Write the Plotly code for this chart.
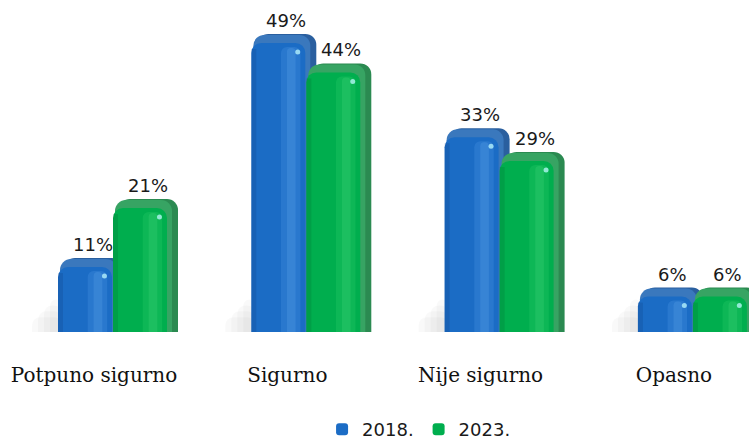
import plotly.graph_objects as go

# --- data -----------------------------------------------------------------
categories = ["Potpuno sigurno", "Sigurno", "Nije sigurno", "Opasno"]
series_names = ["2018.", "2023."]
values_2018 = [11, 49, 33, 6]
values_2023 = [21, 44, 29, 6]

# --- geometry helpers (pixel sizes converted to axis units) ---------------
PX_X = 193.3   # pixels per category step
PX_Y = 5.9     # pixels per percentage point
PLOT_H = 332   # plot area height in pixels


def ux(px):
    return px / PX_X


def uy(px):
    return px / PX_Y


xs = list(range(len(categories)))
FRONT_W = 54

styles = {
    "2018.": dict(values=values_2018, left=-36, front="#1b6cc5", side="#2a5f9f",
                  top="#3a78bd", band="rgba(90,165,240,0.22)", band2="rgba(120,190,250,0.18)",
                  dark="rgba(10,50,110,0.18)"),
    "2023.": dict(values=values_2023, left=19, front="#00ae4e", side="#2b8a51",
                  top="#37a463", band="rgba(60,220,120,0.22)", band2="rgba(110,235,150,0.16)",
                  dark="rgba(0,80,40,0.16)"),
}

fig = go.Figure()

# soft floor shadow to the left of each group
first = styles["2018."]
for w, h in [(26, 2.5), (20, 3.5), (14, 4.5), (8, 5.5)]:
    fig.add_trace(go.Bar(
        x=xs, y=[min(v, h) for v in first["values"]],
        offset=ux(first["left"] - w), width=ux(w + 4),
        marker=dict(color="rgba(0,0,0,0.025)", line=dict(width=0), cornerradius=8),
        showlegend=False, hoverinfo="skip"))

for name in series_names:
    st = styles[name]
    vals = st["values"]
    left = st["left"]
    # back body (right side face)
    fig.add_trace(go.Bar(
        x=xs, y=[v + uy(9) for v in vals],
        offset=ux(left + 6), width=ux(FRONT_W + 5),
        marker=dict(color=st["side"], line=dict(width=0), cornerradius=11),
        showlegend=False, hoverinfo="skip"))
    # top face
    fig.add_trace(go.Bar(
        x=xs, y=[v + uy(8) for v in vals],
        offset=ux(left + 2), width=ux(FRONT_W + 3),
        marker=dict(color=st["top"], line=dict(width=0), cornerradius=11),
        showlegend=False, hoverinfo="skip"))
    # front face
    fig.add_trace(go.Bar(
        x=xs, y=vals, name=name,
        offset=ux(left), width=ux(FRONT_W),
        marker=dict(color=st["front"], line=dict(width=0), cornerradius=10),
        showlegend=True, hoverinfo="skip"))
    # darker left edge
    fig.add_trace(go.Bar(
        x=xs, y=[v - uy(6) for v in vals],
        offset=ux(left), width=ux(5),
        marker=dict(color=st["dark"], line=dict(width=0)),
        showlegend=False, hoverinfo="skip"))
    # lighter vertical band (two soft layers)
    fig.add_trace(go.Bar(
        x=xs, y=[v - uy(4) for v in vals],
        offset=ux(left + 0.55 * FRONT_W), width=ux(0.36 * FRONT_W),
        marker=dict(color=st["band"], line=dict(width=0), cornerradius=6),
        showlegend=False, hoverinfo="skip"))
    fig.add_trace(go.Bar(
        x=xs, y=[v - uy(5) for v in vals],
        offset=ux(left + 0.66 * FRONT_W), width=ux(0.16 * FRONT_W),
        marker=dict(color=st["band2"], line=dict(width=0), cornerradius=4),
        showlegend=False, hoverinfo="skip"))
    # specular glint near the rounded top
    fig.add_trace(go.Scatter(
        x=[i + ux(left + 0.86 * FRONT_W) for i in xs],
        y=[v - uy(9) for v in vals],
        mode="markers",
        marker=dict(color="rgba(190,250,255,0.75)", size=5, line=dict(width=0)),
        showlegend=False, hoverinfo="skip"))

# value labels
annotations = []
for name in series_names:
    st = styles[name]
    for i, v in zip(xs, st["values"]):
        annotations.append(dict(
            x=i + ux(st["left"] + FRONT_W / 2 + 8), y=v, xref="x", yref="y",
            text=f"{v}%", showarrow=False, yanchor="bottom", yshift=10,
            font=dict(family="DejaVu Sans", size=18, color="#1a1a1a")))

fig.update_layout(
    width=749, height=441,
    margin=dict(l=0, r=0, t=0, b=441 - PLOT_H),
    paper_bgcolor="white", plot_bgcolor="white",
    barmode="overlay",
    annotations=annotations,
    xaxis=dict(range=[-94 / PX_X, (749 - 94) / PX_X],
               tickmode="array", tickvals=xs, ticktext=categories,
               tickfont=dict(family="DejaVu Serif", size=20, color="#111111"),
               showgrid=False, zeroline=False, showline=False, ticks="",
               ticklabelstandoff=29, fixedrange=True),
    yaxis=dict(range=[0, PLOT_H / PX_Y], visible=False, fixedrange=True),
    legend=dict(orientation="h", x=0.43, xanchor="left",
                yref="container", y=0.026, yanchor="middle",
                font=dict(family="DejaVu Sans", size=18, color="#1a1a1a"),
                bgcolor="rgba(0,0,0,0)"),
    showlegend=True,
)

fig.write_html("out.html")
